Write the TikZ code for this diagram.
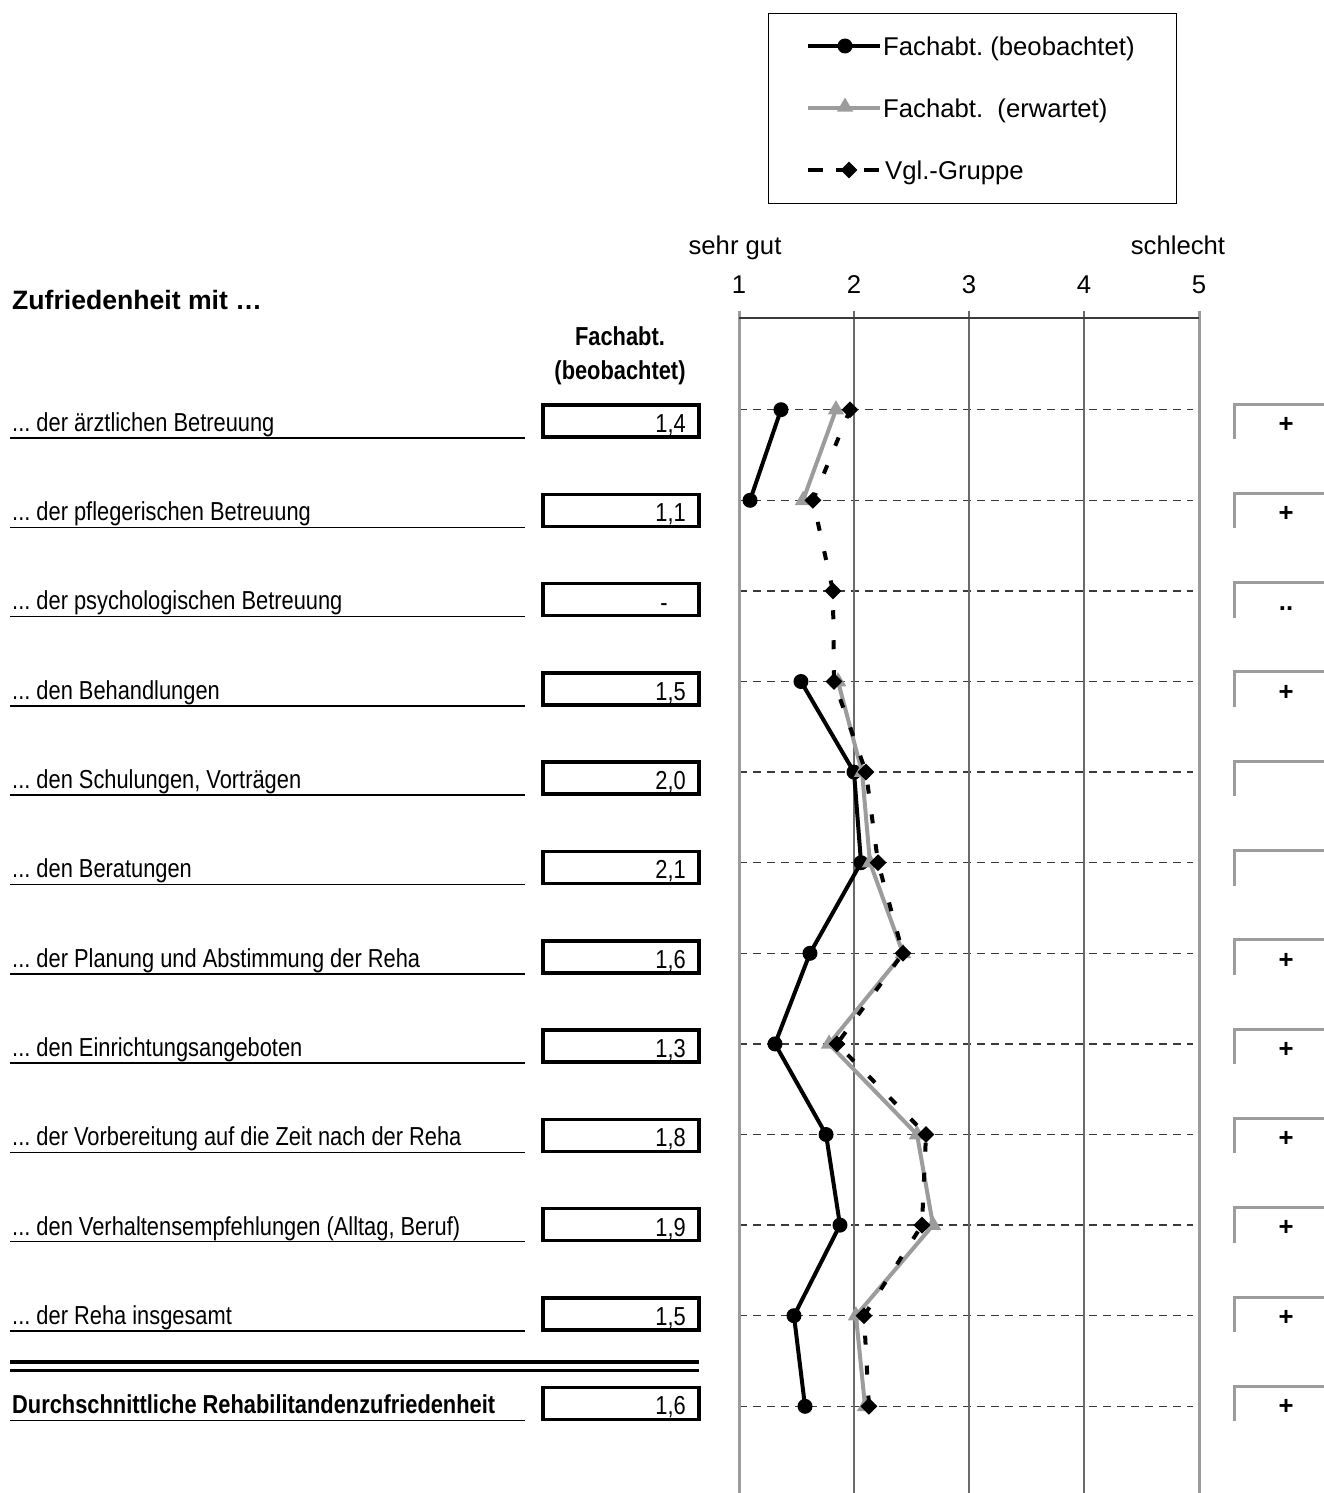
\documentclass[tikz,border=0pt]{standalone}
\usepackage{fontspec}
\setmainfont{Liberation Sans}
\newfontfamily\narrowfont[FakeStretch=0.84]{Liberation Sans}
\usetikzlibrary{shapes.geometric}
\definecolor{lgray}{HTML}{9C9C9C}
\definecolor{dgray}{HTML}{6A6A6A}
\definecolor{ggray}{HTML}{3A3A3A}
\frenchspacing
\begin{document}
\frenchspacing
\begin{tikzpicture}[x=1pt,y=-1pt,
  reg/.style={font=\fontsize{25.7}{30}\selectfont, inner sep=0pt, text height=18.4pt, text depth=0pt},
  regb/.style={reg, font=\bfseries\fontsize{25.7}{30}\selectfont},
  nar/.style={font=\narrowfont\fontsize{26}{30}\selectfont, inner sep=0pt, text height=18.6pt, text depth=0pt},
  narb/.style={nar, font=\narrowfont\bfseries\fontsize{26}{30}\selectfont},
  valbox/.style={draw=black, line width=3.5pt, minimum width=156pt, minimum height=32pt, inner sep=0pt},
  obsline/.style={line width=4pt, black, line join=round},
  expline/.style={line width=4pt, lgray, line join=round},
  vglline/.style={line width=4pt, black, dash pattern=on 9pt off 21pt},
  obsdot/.style={circle, fill=black, inner sep=0pt, minimum size=15pt},
  exptri/.style={regular polygon, regular polygon sides=3, fill=lgray, inner sep=0pt, minimum size=19pt},
  vgldia/.style={diamond, aspect=1, fill=black, inner sep=0pt, minimum width=17pt, minimum height=17pt},
  gridd/.style={ggray, line width=1.3pt, dash pattern=on 8pt off 6pt},
  signbox/.style={lgray, line width=3pt}
]
\useasboundingbox (0,0) rectangle (1324,1493);

% ---------- legend ----------
\node[draw=black, line width=1.3pt, anchor=north west, minimum width=408pt, minimum height=190pt, inner sep=0pt] (legend) at (768,13) {};
\coordinate (la1) at (808,46); \coordinate (lb1) at (880,46);
\draw[obsline] (la1) -- (lb1);
\node[obsdot] (lm1) at (845,46) {};
\node[reg, anchor=west] (lt1) at (883,46) {Fachabt. (beobachtet)};
\coordinate (la2) at (808,108); \coordinate (lb2) at (880,108);
\draw[expline] (la2) -- (lb2);
\node[exptri] (lm2) at (845,107) {};
\node[reg, anchor=west] (lt2) at (883,108) {Fachabt.\ \ (erwartet)};
\coordinate (la3) at (808,170); \coordinate (lb3) at (880,170);
\draw[line width=4pt, black, dash pattern=on 15pt off 13pt] (la3) -- (lb3);
\node[vgldia] (lm3) at (849,170) {};
\node[reg, anchor=west] (lt3) at (885,170) {Vgl.-Gruppe};

% ---------- header ----------
\node[regb, anchor=west, font=\bfseries\fontsize{26.6}{30}\selectfont] (title) at (12,300) {Zufriedenheit mit …};
\node[narb] (colh1) at (620,336) {Fachabt.};
\node[narb] (colh2) at (620,370) {(beobachtet)};

% ---------- axis ----------
\node[reg] (good) at (735,245) {sehr gut};
\node[reg] (bad) at (1178,245) {schlecht};
\foreach \k in {1,...,5}{
  \node[reg] (tick\k) at ({739+(\k-1)*115},284) {\k};
}
\foreach \i in {1,...,12}{
  \pgfmathsetmacro{\yc}{409.7+90.6*(\i-1)}
  \draw[gridd] (739,\yc) -- (1193,\yc);
}
\foreach \k in {2,3,4}{
  \draw[dgray, line width=1.7pt] ({739+(\k-1)*115},311) -- ({739+(\k-1)*115},1493);
}
\foreach \k in {1,5}{
  \draw[lgray, line width=3pt] ({739+(\k-1)*115},311) -- ({739+(\k-1)*115},1493);
}
\draw[ggray, line width=2.3pt] (739,318) -- (1199,318);

% ---------- rows ----------
\foreach \i/\txt/\val/\sg in {
  1/{... der ärztlichen Betreuung}/{1,4}/{+},
  2/{... der pflegerischen Betreuung}/{1,1}/{+},
  3/{... der psychologischen Betreuung}/{}/{..},
  4/{... den Behandlungen}/{1,5}/{+},
  5/{... den Schulungen, Vorträgen}/{2,0}/{},
  6/{... den Beratungen}/{2,1}/{},
  7/{... der Planung und Abstimmung der Reha}/{1,6}/{+},
  8/{... den Einrichtungsangeboten}/{1,3}/{+},
  9/{... der Vorbereitung auf die Zeit nach der Reha}/{1,8}/{+},
  10/{... den Verhaltensempfehlungen (Alltag, Beruf)}/{1,9}/{+},
  11/{... der Reha insgesamt}/{1,5}/{+}}{
  \pgfmathsetmacro{\yt}{423+89.3*(\i-1)}
  \node[nar, anchor=west] (lab\i) at (12,\yt-1) {\txt};
  \draw[line width=1.5pt] (10,\yt+15) -- (525,\yt+15);
  \node[valbox] (box\i) at (621,\yt-2) {};
  \node[nar, anchor=east] (val\i) at (686,\yt) {\val};
  \draw[signbox] (1234,\yt+16) -- (1234,\yt-19) -- (1324,\yt-19);
  \node[regb] (sg\i) at (1286,\yt) {\sg};
}
\node[nar] (val3dash) at (664,602) {-};
% average row
\pgfmathsetmacro{\yl}{423+89.3*11}
\draw[line width=4pt] (10,1362) -- (699,1362);
\draw[line width=3pt] (10,1370) -- (699,1370);
\node[narb, anchor=west] (lab12) at (12,\yl-1) {Durchschnittliche Rehabilitandenzufriedenheit};
\draw[line width=1.5pt] (10,\yl+15) -- (525,\yl+15);
\node[valbox] (box12) at (621,\yl-2) {};
\node[nar, anchor=east] (val12) at (686,\yl) {1,6};
\draw[signbox] (1234,\yl+16) -- (1234,\yl-19) -- (1324,\yl-19);
\node[regb] (sg12) at (1286,\yl) {+};

% ---------- data ----------
\foreach \i/\o/\e/\v in {
  1/1.365/1.843/1.965, 2/1.096/1.557/1.643, 3/1.5/1.5/1.817,
  4/1.539/1.861/1.826, 5/2.0/2.070/2.104, 6/2.061/2.139/2.209,
  7/1.617/2.426/2.426, 8/1.313/1.783/1.852, 9/1.757/2.548/2.626,
  10/1.878/2.687/2.591, 11/1.478/2.017/2.087, 12/1.574/2.096/2.130}{
  \pgfmathsetmacro{\yc}{409.7+90.6*(\i-1)}
  \coordinate (o\i) at ({739+(\o-1)*115},\yc);
  \coordinate (e\i) at ({739+(\e-1)*115},\yc);
  \coordinate (v\i) at ({739+(\v-1)*115},\yc);
}
% observed
\draw[obsline] (o1) -- (o2);
\draw[obsline] (o4) -- (o5) -- (o6) -- (o7) -- (o8) -- (o9) -- (o10) -- (o11) -- (o12);
\foreach \i in {1,2,4,5,6,7,8,9,10,11,12}{ \node[obsdot] (om\i) at (o\i) {}; }
% expected
\draw[expline] (e1) -- (e2);
\draw[expline] (e4) -- (e5) -- (e6) -- (e7) -- (e8) -- (e9) -- (e10) -- (e11) -- (e12);
\foreach \i in {1,2,4,5,6,7,8,9,10,11,12}{ \node[exptri] (em\i) at (e\i) {}; }
% comparison group
\draw[vglline] (v1) -- (v2) -- (v3) -- (v4) -- (v5) -- (v6) -- (v7) -- (v8) -- (v9) -- (v10) -- (v11) -- (v12);
\foreach \i in {1,...,12}{ \node[vgldia] (vm\i) at (v\i) {}; }
\end{tikzpicture}
\end{document}
